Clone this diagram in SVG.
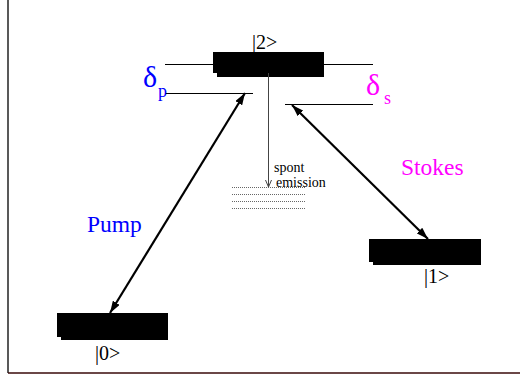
<svg xmlns="http://www.w3.org/2000/svg" width="520" height="377" viewBox="0 0 520 377">
<style>
.lvl{fill:#000}
.thin{stroke:#000;stroke-width:1;fill:none}
.arr{stroke:#000;stroke-width:2.2;fill:none}
.t{font-family:"Liberation Serif","Times New Roman",serif}
.ket{font-size:20px;fill:#000}
.dot{stroke:#666;stroke-width:1;stroke-dasharray:1 1;fill:none}
</style>
<defs>
<marker id="ah" viewBox="0 0 12 8" refX="12" refY="4" markerWidth="12" markerHeight="8" markerUnits="userSpaceOnUse" orient="auto-start-reverse">
<path d="M0,0 L12,4 L0,8 Z" fill="#000"/>
</marker>
</defs>
<rect width="520" height="377" fill="#fff"/>
<line x1="8" y1="0" x2="8" y2="373" stroke="#222" stroke-width="1.5"/>
<line x1="8" y1="373" x2="520" y2="373" stroke="#3a0a0a" stroke-width="1.5"/>

<g id="level2">
<line class="thin" x1="165" y1="64.5" x2="213" y2="64.5"/>
<line class="thin" x1="324" y1="64.5" x2="373" y2="64.5"/>
<rect class="lvl" x="213" y="52" width="111" height="21"/>
<rect class="lvl" x="217" y="55" width="107" height="22"/>
<text class="t ket" x="252" y="49">|2&gt;</text>
</g>

<g id="level1">
<rect class="lvl" x="369" y="239" width="112" height="23"/>
<rect class="lvl" x="373" y="242" width="108" height="23"/>
<text class="t ket" x="424" y="283">|1&gt;</text>
</g>

<g id="level0">
<rect class="lvl" x="57" y="313" width="111" height="24"/>
<rect class="lvl" x="61" y="316" width="107" height="24"/>
<text class="t ket" x="95" y="360">|0&gt;</text>
</g>

<g id="detunings">
<line class="thin" x1="165" y1="93.5" x2="253" y2="93.5"/>
<text class="t" x="143" y="87" font-size="30" fill="#0000ff">δ</text>
<text class="t" x="158" y="97" font-size="18" fill="#0000ff">p</text>
<line class="thin" x1="285" y1="104.5" x2="373" y2="104.5"/>
<text class="t" x="366" y="95" font-size="30" fill="#ff00ff">δ</text>
<text class="t" x="384" y="104" font-size="18" fill="#ff00ff">s</text>
</g>

<g id="emission">
<line x1="232" y1="187.5" x2="305" y2="187.5" class="dot"/>
<line x1="232" y1="194.5" x2="305" y2="194.5" class="dot"/>
<line x1="232" y1="201.5" x2="305" y2="201.5" class="dot"/>
<line x1="232" y1="208.5" x2="305" y2="208.5" class="dot"/>
<text class="t" x="274" y="172" font-size="14" fill="#000">spont</text>
<text class="t" x="276" y="187" font-size="14" fill="#000">emission</text>
</g>

<g id="connectors">
<line x1="268.5" y1="73" x2="268.5" y2="187" stroke="#444" stroke-width="1"/>
<polyline points="265.5,180 268.5,187 271.5,180" stroke="#444" stroke-width="1" fill="none"/>
<line class="arr" x1="245" y1="93" x2="110" y2="313" marker-start="url(#ah)" marker-end="url(#ah)"/>
<line class="arr" x1="292" y1="105" x2="428" y2="239" marker-start="url(#ah)" marker-end="url(#ah)"/>
</g>

<g id="labels">
<text class="t" x="87" y="232" font-size="23.5" fill="#0000ff">Pump</text>
<text class="t" x="401" y="175" font-size="23.5" fill="#ff00ff">Stokes</text>
</g>
</svg>
